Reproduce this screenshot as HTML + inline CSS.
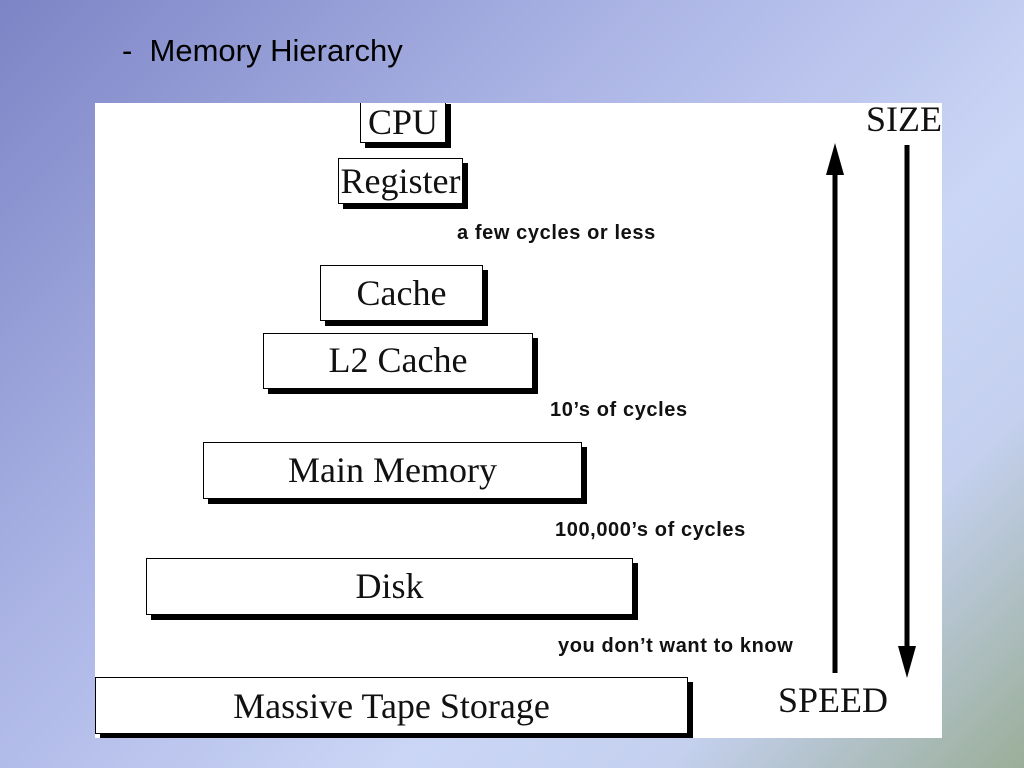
<!DOCTYPE html>
<html><head><style>
body{margin:0;width:1024px;height:768px;overflow:hidden;position:relative;
background:linear-gradient(135deg,#7d84c6 0%,#aab3e4 35%,#cbd6f6 65%,#c4d0ee 80%,#9aae98 100%);font-family:"Liberation Sans",sans-serif;}
.t{position:absolute;left:122px;top:33px;font-size:31px;color:#000;}
.panel{position:absolute;left:95px;top:103px;width:847px;height:635px;background:#fff;overflow:hidden;}
.b{position:absolute;border:1px solid #000;background:#fff;box-shadow:5px 5px 0 #000;box-sizing:border-box;font-family:"Liberation Serif",serif;text-align:center;color:#111;font-size:36px;}
.l{position:absolute;font-weight:bold;font-size:20px;letter-spacing:0.6px;color:#111;white-space:nowrap;}
.s{position:absolute;font-family:"Liberation Serif",serif;font-size:36px;color:#111;}
</style></head><body>
<div class="t">-&nbsp; Memory Hierarchy</div>
<div class="panel">
<div class="b" style="left:265px;top:-4px;width:86px;height:44px;line-height:44px;">CPU</div>
<div class="b" style="left:243px;top:55px;width:125px;height:46px;line-height:44px;">Register</div>
<div class="b" style="left:225px;top:162px;width:163px;height:56px;line-height:54px;">Cache</div>
<div class="b" style="left:168px;top:230px;width:270px;height:56px;line-height:52px;">L2 Cache</div>
<div class="b" style="left:108px;top:339px;width:379px;height:57px;line-height:54px;">Main Memory</div>
<div class="b" style="left:51px;top:455px;width:487px;height:57px;line-height:54px;">Disk</div>
<div class="b" style="left:0px;top:574px;width:593px;height:57px;line-height:56px;">Massive Tape Storage</div>
<div class="l" style="left:362px;top:119px;">a few cycles or less</div>
<div class="l" style="left:455px;top:296px;">10’s of cycles</div>
<div class="l" style="left:460px;top:416px;">100,000’s of cycles</div>
<div class="l" style="left:463px;top:532px;">you don’t want to know</div>
<div class="s" style="left:771px;top:-5px;">SIZE</div>
<div class="s" style="left:683px;top:576px;">SPEED</div>
<svg width="847" height="635" style="position:absolute;left:0;top:0">
<line x1="740" y1="70" x2="740" y2="570" stroke="#000" stroke-width="5"/>
<polygon points="731,72 749,72 740,40" fill="#000"/>
<line x1="812" y1="42" x2="812" y2="545" stroke="#000" stroke-width="5"/>
<polygon points="803,543 821,543 812,575" fill="#000"/>
</svg>
</div>
</body></html>
